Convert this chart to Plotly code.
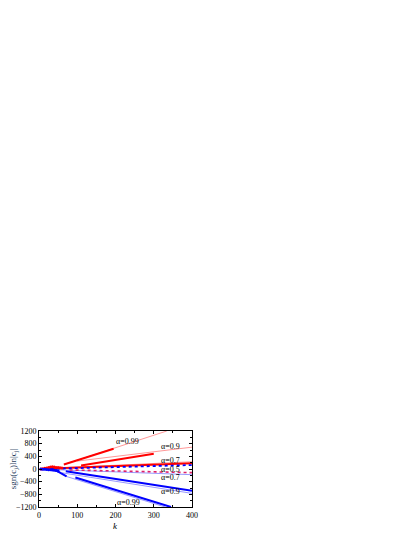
import plotly.graph_objects as go

# ---- data ----
alpha_labels = ["α=0.99", "α=0.9", "α=0.7", "α=0.5", "α=0.7", "α=0.9", "α=0.99"]
label_k = [232, 345, 345, 345, 345, 343, 233]
label_v = [880, 700, 260, 0, -270, -720, -1050]

# red (positive) series: thin fit lines and thick data segments
r99_fit_k = [65, 334];   r99_fit_v = [140, 1200]
r99_dat_k = [65, 195];   r99_dat_v = [140, 640]
r90_fit_k = [100, 400];  r90_fit_v = [250, 690]
r90_dat_k = [110, 300];  r90_dat_v = [110, 480]
r70_fit_k = [60, 400];   r70_fit_v = [40, 230]
r70_dat_k = [15, 400];   r70_dat_v = [10, 180]
r50_dat_k = [80, 400];   r50_dat_v = [-30, -115]

# blue (negative) series
b50_dat_k = [15, 400];   b50_dat_v = [0, 125]
b70_fit_k = [40, 400];   b70_fit_v = [-20, -180]
b90_fit_k = [60, 400];   b90_fit_v = [-120, -770]
b90_dat_k = [70, 400];   b90_dat_v = [-70, -690]
b99_fit_k = [70, 330];   b99_fit_v = [-230, -1200]
b99_dat_k = [95, 345];   b99_dat_v = [-270, -1200]
b99_early_k = [42, 72];  b99_early_v = [-26, -236]

# cluster of points near the origin
cr_k = [5, 10, 15, 20, 25, 30, 35, 40, 45, 50, 55, 60]
cr_v = [0, 10, 20, 35, 45, 60, 70, 60, 50, 45, 40, 35]
cb_k = [5, 10, 15, 20, 25, 30, 35, 40, 45, 50]
cb_v = [0, -5, -10, -15, -20, -25, -30, -40, -50, -60]

RED = "#ff0000"
LRED = "#ff8c8c"
BLUE = "#0000ff"
LBLUE = "#8c8cff"

fig = go.Figure()

def line(k, v, color, width, dash="solid"):
    fig.add_trace(go.Scatter(x=k, y=v, mode="lines",
                             line=dict(color=color, width=width, dash=dash),
                             showlegend=False, hoverinfo="skip"))

line(r99_fit_k, r99_fit_v, LRED, 0.9)
line(r90_fit_k, r90_fit_v, LRED, 0.9)
line(r70_fit_k, r70_fit_v, LRED, 0.9)
line(b70_fit_k, b70_fit_v, LBLUE, 0.9)
line(b90_fit_k, b90_fit_v, LBLUE, 0.9)
line(b99_fit_k, b99_fit_v, LBLUE, 0.9)

line(r99_dat_k, r99_dat_v, RED, 2)
line(r90_dat_k, r90_dat_v, RED, 2)
line(r70_dat_k, r70_dat_v, RED, 2)
line(r50_dat_k, r50_dat_v, "#e0206a", 1.6, "dot")
line(b50_dat_k, b50_dat_v, BLUE, 1.8, "dot")
line(b90_dat_k, b90_dat_v, BLUE, 2)
line(b99_dat_k, b99_dat_v, BLUE, 2)
line(b99_early_k, b99_early_v, BLUE, 2)

fig.add_trace(go.Scatter(x=cr_k, y=cr_v, mode="markers",
                         marker=dict(color=RED, size=3), showlegend=False, hoverinfo="skip"))
fig.add_trace(go.Scatter(x=cb_k, y=cb_v, mode="markers",
                         marker=dict(color=BLUE, size=3), showlegend=False, hoverinfo="skip"))

for t, kx, vy in zip(alpha_labels, label_k, label_v):
    fig.add_annotation(x=kx, y=vy, text=t, showarrow=False,
                       font=dict(family="Liberation Serif", size=8, color="black"))

# x-axis title as an annotation below the tick labels
fig.add_annotation(x=0.5, xref="paper", y=0, yref="paper", yshift=-19, yanchor="middle",
                   text="<i>k</i>", showarrow=False,
                   font=dict(family="Liberation Serif", size=9, color="black"))

axis_common = dict(showgrid=False, zeroline=False, showline=True, linecolor="black",
                   linewidth=1, mirror="allticks", ticks="inside", ticklen=3,
                   tickcolor="black", tickfont=dict(family="Liberation Serif", size=8, color="black"))

fig.update_xaxes(range=[0, 400], tickvals=[0, 100, 200, 300, 400],
                 minor=dict(ticks="inside", ticklen=2, dtick=50, tickcolor="black"),
                 **axis_common)
fig.update_yaxes(range=[-1200, 1200], tickvals=[-1200, -800, -400, 0, 400, 800, 1200],
                 minor=dict(ticks="inside", ticklen=2, dtick=200, tickcolor="black"),
                 title=dict(text="sgn(c<sub>j</sub>)ln|c<sub>j</sub>|",
                            font=dict(family="Liberation Serif", size=9), standoff=6),
                 **axis_common)

fig.update_layout(width=400, height=529, paper_bgcolor="white", plot_bgcolor="white",
                  margin=dict(l=31, r=216, t=423, b=30, autoexpand=False))

fig.write_html("out.html")
